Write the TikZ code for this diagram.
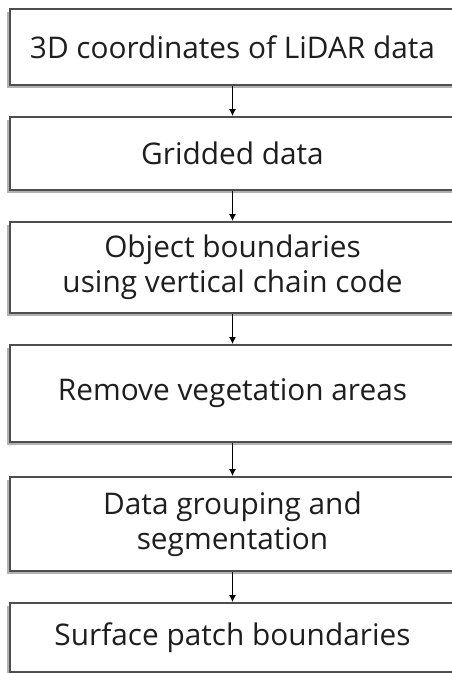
\documentclass[tikz,border=0pt]{standalone}
\usepackage{fontspec}
\setmainfont{Open Sans}
\usetikzlibrary{arrows.meta,shadows}
\definecolor{boxline}{RGB}{78,78,78}
\definecolor{txt}{RGB}{30,30,30}
\tikzset{
  stepbox/.style={draw=boxline, line width=2pt, fill=white,
    minimum width=445pt, inner sep=0pt, align=center, text=txt,
    font=\fontsize{29.8}{35}\selectfont,
    drop shadow={shadow xshift=-3pt, shadow yshift=-3pt, fill=black, opacity=0.3}},
  flow/.style={draw=black, line width=0.9pt, -{Latex[length=7pt,width=7pt]}}
}
\begin{document}
\begin{tikzpicture}[x=1pt,y=1pt]
\useasboundingbox (0,0) rectangle (452,-673);
% process steps, top to bottom
\node[stepbox, minimum height=76pt] (s1) at (232.5,-47)   {3D coordinates of LiDAR data};
\node[stepbox, minimum height=73pt] (s2) at (232.5,-153.5) {Gridded data};
\node[stepbox, minimum height=91pt] (s3) at (232.5,-267.5) {Object boundaries\\using vertical chain code};
\node[stepbox, minimum height=97pt] (s4) at (232.5,-393.5) {Remove vegetation areas};
\node[stepbox, minimum height=94pt] (s5) at (232.5,-524)   {Data grouping and\\segmentation};
\node[stepbox, minimum height=69pt] (s6) at (232.5,-637.5) {Surface patch boundaries};
% connectors
\draw[flow] (s1.south) -- (s2.north);
\draw[flow] (s2.south) -- (s3.north);
\draw[flow] (s3.south) -- (s4.north);
\draw[flow] (s4.south) -- (s5.north);
\draw[flow] (s5.south) -- (s6.north);
\end{tikzpicture}
\end{document}
